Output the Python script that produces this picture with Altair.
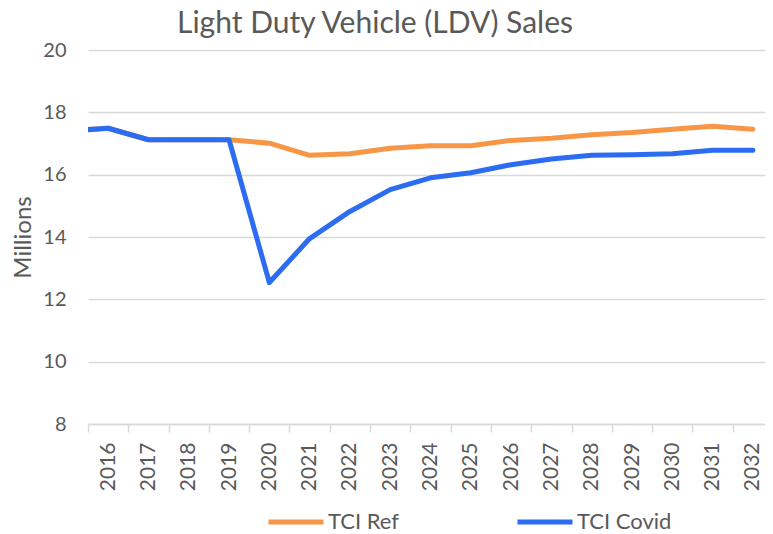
import altair as alt
import pandas as pd

years = list(range(2015, 2033))
tci_ref = [17.40, 17.49, 17.12, 17.12, 17.12, 17.01, 16.62, 16.67, 16.85, 16.93,
           16.93, 17.10, 17.17, 17.28, 17.35, 17.46, 17.55, 17.46]
tci_covid = [17.40, 17.49, 17.12, 17.12, 17.12, 12.54, 13.95, 14.82, 15.52, 15.90,
             16.06, 16.32, 16.50, 16.62, 16.64, 16.67, 16.78, 16.78]
series_names = ["TCI Ref", "TCI Covid"]
series_colors = ["#F79646", "#2B6CF2"]
label_years = list(range(2016, 2033))
y_ticks = [8, 10, 12, 14, 16, 18, 20]
chart_title = ["Light Duty Vehicle (LDV) Sales"]

df = pd.DataFrame({
    "year": years * 2,
    "value": tci_ref + tci_covid,
    "series": [series_names[0]] * len(years) + [series_names[1]] * len(years),
})

FONT = "Lato"
GRAY = "#595959"
GRID = "#D9D9D9"

x_scale = alt.Scale(domain=[2015.5, 2032.3], nice=False, zero=False)
y_scale = alt.Scale(domain=[8, 20], nice=False, zero=False)

y_axis = alt.Axis(values=y_ticks, grid=True, gridColor=GRID, gridWidth=1.5,
                  domain=False, ticks=False, tickSize=0, labelPadding=22,
                  labelFontSize=20, labelFont=FONT, labelColor=GRAY,
                  title="Millions", titleFont=FONT, titleFontSize=24,
                  titleFontWeight="normal", titleColor=GRAY, titleAngle=-90,
                  titleX=-77, titleY=187, titleAlign="center", titleBaseline="top")

color = alt.Color("series:N",
                  scale=alt.Scale(domain=series_names, range=series_colors),
                  legend=alt.Legend(title=None, orient="none", direction="horizontal",
                                    legendX=178, legendY=442, symbolType="stroke",
                                    symbolSize=3025, symbolStrokeWidth=5,
                                    labelFont=FONT, labelFontSize=22, labelColor=GRAY,
                                    labelOffset=2, columnPadding=84, gridAlign="all"))

base = alt.Chart(df)

ref_line = base.transform_filter(alt.datum.series == series_names[0]).mark_line(
    clip=True, strokeWidth=5, strokeCap="round", strokeJoin="round"
).encode(
    x=alt.X("year:Q", scale=x_scale,
            axis=alt.Axis(values=label_years, format="d", labelAngle=-90,
                          labelAlign="right", labelBaseline="middle", ticks=False,
                          tickSize=0, domain=True, domainColor=GRID, domainWidth=1.5,
                          grid=False, labelPadding=18, labelFontSize=21,
                          labelFont=FONT, labelColor=GRAY, title=None,
                          orient="bottom", labelFlush=False, labelOverlap=False)),
    y=alt.Y("value:Q", scale=y_scale, axis=y_axis),
    color=color,
)

covid_line = base.transform_filter(alt.datum.series == series_names[1]).mark_line(
    clip=True, strokeWidth=5, strokeCap="round", strokeJoin="round"
).encode(
    x=alt.X("year:Q", scale=x_scale,
            axis=alt.Axis(values=[y + 0.5 for y in range(2015, 2033)], labels=False,
                          ticks=True, tickSize=8, tickColor=GRID, tickWidth=1.5,
                          domain=False, grid=False, title=None, orient="bottom")),
    y=alt.Y("value:Q", scale=y_scale, axis=y_axis),
    color=color,
)

title_text = alt.Chart(pd.DataFrame({"t": chart_title})).mark_text(
    font=FONT, fontSize=30, color=GRAY, align="center", baseline="alphabetic"
).encode(text="t:N", x=alt.value(287), y=alt.value(-17))

chart = alt.layer(ref_line, covid_line, title_text).resolve_axis(x="independent").properties(
    width=677, height=374,
    autosize=alt.AutoSizeParams(type="none"),
    padding={"left": 80, "top": 42, "right": 0, "bottom": 110},
).configure_view(stroke=None)

chart.save("out.html", embed_options={"renderer": "svg", "actions": False})
